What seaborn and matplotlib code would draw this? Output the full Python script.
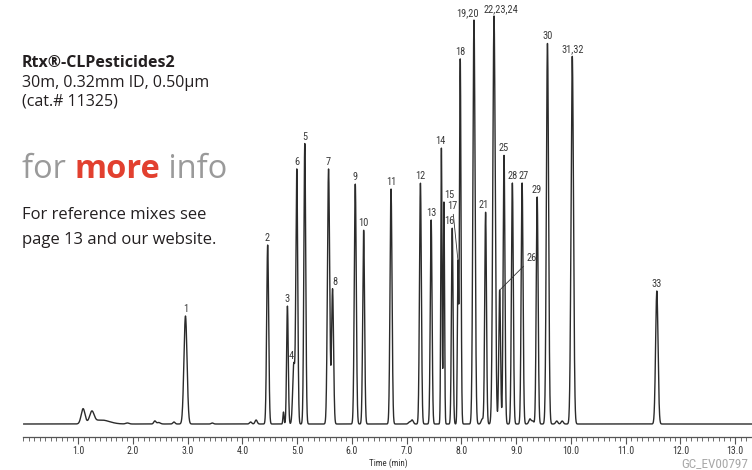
import numpy as np
import pandas as pd
import matplotlib
matplotlib.use("Agg")
import matplotlib.pyplot as plt
import seaborn as sns

# 피크 데이터 (retention time [min], 높이, 폭 sigma [min])
peak_labels = ["1", "2", "3", "4", "6", "5", "7", "8", "9", "10", "11", "12", "13",
               "14", "15", "16", "17", "18", "19,20", "21", "22,23,24", "26", "25",
               "28", "27", "29", "30", "31,32", "33"]
peak_rt = [2.960, 4.461, 4.822, 4.938, 4.993, 5.139, 5.573, 5.646, 6.061, 6.214, 6.714,
           7.251, 7.447, 7.634, 7.680, 7.832, 7.936, 7.978, 8.229, 8.441, 8.595, 8.698,
           8.778, 8.930, 9.108, 9.383, 9.571, 10.024, 11.568]
peak_height = [108, 179, 118, 60, 254, 281, 255, 135, 240, 194, 235, 241, 204, 276, 222,
               196, 160, 365, 404, 212, 408, 134, 269, 241, 241, 227, 381, 368, 133]
peak_sigma = [0.028, 0.018, 0.015, 0.02, 0.017, 0.017, 0.02, 0.018, 0.018, 0.017, 0.018,
              0.017, 0.016, 0.011, 0.011, 0.015, 0.011, 0.014, 0.02, 0.016, 0.022, 0.016,
              0.016, 0.017, 0.017, 0.017, 0.02, 0.022, 0.022]

# 라벨 위치 보정 (픽셀)
label_dx = {"2": -1, "4": -3, "8": 2, "14": -1, "15": 5, "16": -3, "19,20": -7,
            "21": -2, "22,23,24": 7, "27": 2}

# 작은 베이스라인 피크 (용매 등)
minor_rt = [1.09, 1.25, 1.42, 1.90, 2.40, 2.47, 2.75, 3.45, 4.15, 4.25, 4.75, 7.05, 7.10,
            8.38, 9.25, 9.30, 9.74, 9.84]
minor_height = [15, 11, 4, 1, 3, 1.5, 2, 1, 2, 4, 12, 2, 4, 5, 5, 3, 3, 3]
minor_sigma = [0.035, 0.04, 0.15, 0.03, 0.02, 0.03, 0.02, 0.02, 0.02, 0.02, 0.01, 0.02,
               0.02, 0.02, 0.02, 0.02, 0.02, 0.02]

x_ticks = [1.0, 2.0, 3.0, 4.0, 5.0, 6.0, 7.0, 8.0, 9.0, 10.0, 11.0, 12.0, 13.0]

# 크로마토그램 신호 만들기
t = np.linspace(0, 13.32, 6000)
signal = np.zeros_like(t)
for rt, h, s in zip(peak_rt + minor_rt, peak_height + minor_height, peak_sigma + minor_sigma):
    signal += h * np.exp(-0.5 * ((t - rt) / s) ** 2)
df = pd.DataFrame({"time": t, "signal": signal})

sns.set_style("white")
narrow = ["Liberation Sans Narrow", "Roboto Condensed", "Roboto"]
plt.rcParams["font.family"] = ["Open Sans", "DejaVu Sans"]

fig = plt.figure(figsize=(7.52, 4.70), dpi=100)
ax = fig.add_axes([23.4 / 752, 1 - 437 / 470, 1 - 23.4 / 752 + 0.001, 437 / 470])

sns.lineplot(data=df, x="time", y="signal", ax=ax, color="#2b2b2b", linewidth=1.0,
             estimator=None)

ax.set_xlim(0, 13.32)
ax.set_ylim(-13, 424)
for side in ["top", "right", "left"]:
    ax.spines[side].set_visible(False)
ax.spines["bottom"].set_color("#555555")
ax.spines["bottom"].set_linewidth(0.9)
ax.set_yticks([])
ax.set_xticks(x_ticks)
ax.set_xticks(np.arange(0, 13.31, 0.1), minor=True)
ax.set_xticklabels([f"{v:.1f}" for v in x_ticks], fontfamily=narrow, fontsize=7,
                   color="#333333")
ax.tick_params(axis="x", which="major", direction="out", length=5, width=0.8,
               color="#555555", pad=1.5, bottom=True)
ax.tick_params(axis="x", which="minor", direction="out", length=3, width=0.6,
               color="#555555", bottom=True)
ax.set_xlabel("Time (min)", fontfamily=narrow, fontsize=6.5, color="#333333", labelpad=2)
ax.set_ylabel("")

# 피크 라벨
lab_kw = dict(fontsize=7.5, fontfamily=narrow, color="#3a3a3a")
for lab, rt, h in zip(peak_labels, peak_rt, peak_height):
    y_top = df.loc[(df.time - rt).abs().idxmin(), "signal"]
    if lab == "26":
        ax.annotate(lab, xy=(rt, y_top), xytext=(rt + 27 / 54.6, 161),
                    ha="left", va="bottom", **lab_kw,
                    arrowprops=dict(arrowstyle="-", color="#333333", lw=0.6,
                                    shrinkA=0, shrinkB=0, relpos=(0.0, 0.0)))
        continue
    if lab == "17":
        ax.annotate(lab, xy=(rt, y_top), xytext=(rt - 6 / 54.6, 213),
                    ha="center", va="bottom", **lab_kw,
                    arrowprops=dict(arrowstyle="-", color="#333333", lw=0.6,
                                    shrinkA=0, shrinkB=0, relpos=(0.6, 0.0)))
        continue
    ax.annotate(lab, xy=(rt, y_top), xytext=(label_dx.get(lab, 0), 2),
                textcoords="offset pixels", ha="center", va="bottom", **lab_kw)

# 왼쪽 설명 텍스트
fig.text(22 / 752, 1 - 63 / 470, "Rtx®-CLPesticides2", fontsize=11.5, fontweight="bold",
         color="#231f20", va="center", ha="left")
fig.text(22 / 752, 1 - 83 / 470, "30m, 0.32mm ID, 0.50µm", fontsize=11.5,
         color="#231f20", va="center", ha="left")
fig.text(22 / 752, 1 - 102 / 470, "(cat.# 11325)", fontsize=11.5,
         color="#231f20", va="center", ha="left")

t1 = fig.text(22 / 752, 1 - 170 / 470, "for ", fontsize=23.5, color="#9a9a9a",
              va="center", ha="left")
fig.canvas.draw()
r = fig.canvas.get_renderer()
bb = t1.get_window_extent(r)
t2 = fig.text(bb.x1 / fig.bbox.width, 1 - 170 / 470, "more", fontsize=23.5,
              fontweight="bold", color="#e2402f", va="center", ha="left")
bb2 = t2.get_window_extent(r)
fig.text(bb2.x1 / fig.bbox.width, 1 - 170 / 470, " info", fontsize=23.5, color="#9a9a9a",
         va="center", ha="left")

fig.text(22 / 752, 1 - 215 / 470, "For reference mixes see", fontsize=12,
         color="#231f20", va="center", ha="left")
fig.text(22 / 752, 1 - 240 / 470, "page 13 and our website.", fontsize=12,
         color="#231f20", va="center", ha="left")

# 오른쪽 아래 코드
fig.text(748 / 752, 0, "GC_EV00797", fontsize=9.5, fontfamily=narrow,
         color="#a8a8a8", va="bottom", ha="right")

fig.savefig("out.png", dpi=100)
